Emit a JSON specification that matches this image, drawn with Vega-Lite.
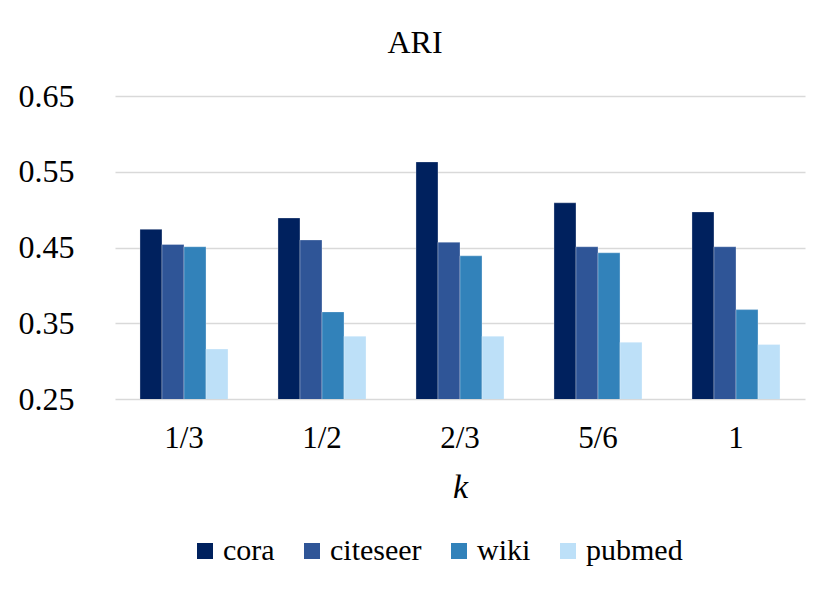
{
  "$schema": "https://vega.github.io/schema/vega-lite/v6.json",
  "autosize": {"type": "none"},
  "padding": {"left": 115, "top": 96, "right": 25, "bottom": 203},
  "width": 690,
  "height": 303,
  "background": "white",
  "title": {"text": "ARI", "fontSize": 32, "font": "Liberation Serif", "fontWeight": "normal", "color": "#000000", "anchor": "middle", "dx": -45, "offset": 20},
  "data": {
    "values": [
      {"k": "1/3", "dataset": "cora", "ari": 0.474},
      {"k": "1/3", "dataset": "citeseer", "ari": 0.454},
      {"k": "1/3", "dataset": "wiki", "ari": 0.451},
      {"k": "1/3", "dataset": "pubmed", "ari": 0.316},
      {"k": "1/2", "dataset": "cora", "ari": 0.489},
      {"k": "1/2", "dataset": "citeseer", "ari": 0.460},
      {"k": "1/2", "dataset": "wiki", "ari": 0.365},
      {"k": "1/2", "dataset": "pubmed", "ari": 0.333},
      {"k": "2/3", "dataset": "cora", "ari": 0.563},
      {"k": "2/3", "dataset": "citeseer", "ari": 0.457},
      {"k": "2/3", "dataset": "wiki", "ari": 0.439},
      {"k": "2/3", "dataset": "pubmed", "ari": 0.333},
      {"k": "5/6", "dataset": "cora", "ari": 0.509},
      {"k": "5/6", "dataset": "citeseer", "ari": 0.451},
      {"k": "5/6", "dataset": "wiki", "ari": 0.443},
      {"k": "5/6", "dataset": "pubmed", "ari": 0.325},
      {"k": "1", "dataset": "cora", "ari": 0.497},
      {"k": "1", "dataset": "citeseer", "ari": 0.451},
      {"k": "1", "dataset": "wiki", "ari": 0.368},
      {"k": "1", "dataset": "pubmed", "ari": 0.322}
    ]
  },
  "mark": {"type": "bar", "clip": true, "stroke": "white", "strokeWidth": 0.5, "strokeOpacity": 0.6},
  "encoding": {
    "x": {
      "field": "k",
      "type": "nominal",
      "sort": ["1/3", "1/2", "2/3", "5/6", "1"],
      "scale": {"paddingInner": 0.362, "paddingOuter": 0.181},
      "axis": {
        "title": "k",
        "titleFont": "Liberation Serif",
        "titleFontStyle": "italic",
        "titleFontWeight": "normal",
        "titleFontSize": 34,
        "titleColor": "#000000",
        "titlePadding": 17,
        "labelFont": "Liberation Serif",
        "labelFontSize": 31,
        "labelColor": "#000000",
        "labelAngle": 0,
        "labelPadding": 24,
        "domain": false,
        "ticks": false
      }
    },
    "xOffset": {
      "field": "dataset",
      "type": "nominal",
      "sort": ["cora", "citeseer", "wiki", "pubmed"],
      "scale": {"paddingInner": 0, "paddingOuter": 0}
    },
    "y": {
      "field": "ari",
      "type": "quantitative",
      "scale": {"domain": [0.25, 0.65], "nice": false, "zero": false},
      "axis": {
        "title": null,
        "values": [0.25, 0.35, 0.45, 0.55, 0.65],
        "format": ".2f",
        "labelFont": "Liberation Serif",
        "labelFontSize": 32,
        "labelColor": "#000000",
        "labelPadding": 41,
        "domain": false,
        "ticks": false,
        "gridColor": "#d9d9d9",
        "gridWidth": 1.5
      }
    },
    "color": {
      "field": "dataset",
      "type": "nominal",
      "sort": ["cora", "citeseer", "wiki", "pubmed"],
      "scale": {
        "domain": ["cora", "citeseer", "wiki", "pubmed"],
        "range": ["#00215E", "#2F5597", "#3282BA", "#BDE0F8"]
      },
      "legend": {
        "title": null,
        "orient": "none",
        "legendX": 75,
        "legendY": 440,
        "direction": "horizontal",
        "columns": 4,
        "symbolType": "square",
        "symbolSize": 256,
        "symbolStrokeWidth": 0,
        "labelFont": "Liberation Serif",
        "labelFontSize": 30,
        "labelColor": "#000000",
        "labelOffset": 3,
        "columnPadding": 22
      }
    }
  },
  "config": {"view": {"stroke": null}}
}
